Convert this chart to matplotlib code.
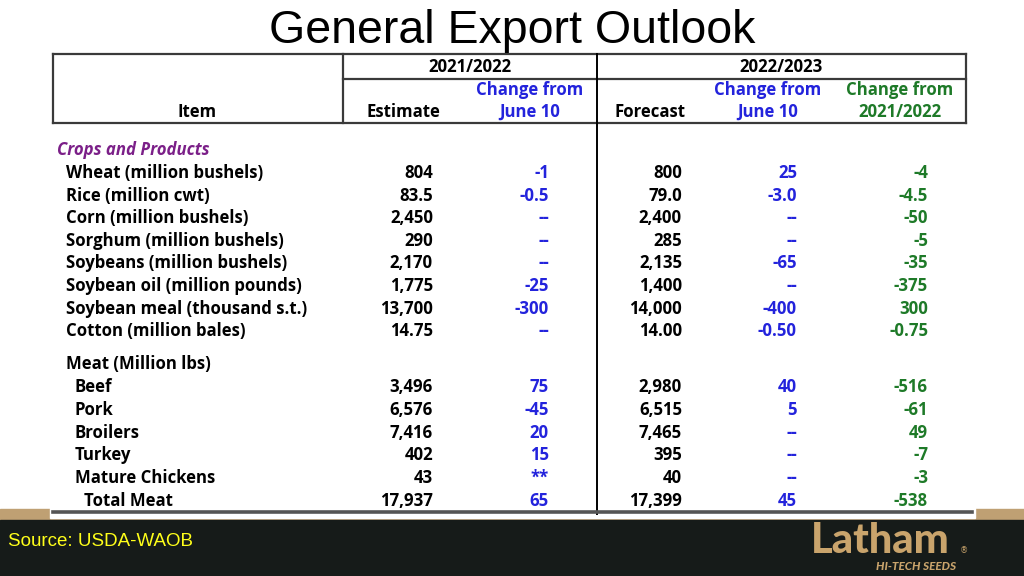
"""General export outlook table (USDA-WAOB) drawn as a slide."""

import matplotlib

matplotlib.use("Agg")
import matplotlib.pyplot as plt
from matplotlib.patches import Rectangle

# --- table data -----------------------------------------------------------
items = [
    "Crops and Products",
    "Wheat (million bushels)",
    "Rice (million cwt)",
    "Corn (million bushels)",
    "Sorghum (million bushels)",
    "Soybeans (million bushels)",
    "Soybean oil (million pounds)",
    "Soybean meal (thousand s.t.)",
    "Cotton (million bales)",
    "Meat (Million lbs)",
    "Beef",
    "Pork",
    "Broilers",
    "Turkey",
    "Mature Chickens",
    "Total Meat",
]
indent = [0, 1, 1, 1, 1, 1, 1, 1, 1, 1, 2, 2, 2, 2, 2, 3]
estimate_2122 = ["", "804", "83.5", "2,450", "290", "2,170", "1,775", "13,700", "14.75",
                 "", "3,496", "6,576", "7,416", "402", "43", "17,937"]
change_2122 = ["", "-1", "-0.5", "--", "--", "--", "-25", "-300", "--",
               "", "75", "-45", "20", "15", "**", "65"]
forecast_2223 = ["", "800", "79.0", "2,400", "285", "2,135", "1,400", "14,000", "14.00",
                 "", "2,980", "6,515", "7,465", "395", "40", "17,399"]
change_2223 = ["", "25", "-3.0", "--", "--", "-65", "--", "-400", "-0.50",
               "", "40", "5", "--", "--", "--", "45"]
change_yoy = ["", "-4", "-4.5", "-50", "-5", "-35", "-375", "300", "-0.75",
              "", "-516", "-61", "49", "-7", "-3", "-538"]

BLUE = "#2323DC"
GREEN = "#1E7A28"
PURPLE = "#7B1F88"
LINE = "#3a3a3a"
GOLD = "#C9A46C"
FONT = "Open Sans"
FS = 12.1

fig = plt.figure(figsize=(10.24, 5.76), dpi=100)
ax = fig.add_axes([0, 0, 1, 1])
ax.set_xlim(0, 1024)
ax.set_ylim(576, 0)
ax.axis("off")

# background bands
ax.add_patch(Rectangle((0, 0), 1024, 576, color="white", zorder=0))
ax.add_patch(Rectangle((0, 509), 1024, 12, color="#BFA073", zorder=1))
ax.add_patch(Rectangle((0, 520), 1024, 56, color="#161b19", zorder=1))
ax.add_patch(Rectangle((50, 500), 925, 18, color="white", zorder=2))

ax.text(512, 31, "General Export Outlook", ha="center", va="center",
        fontsize=33.5, family="Liberation Sans", color="black", zorder=5)

# header grid
lw = 1.6
ax.plot([53, 966], [54, 54], color=LINE, lw=lw, zorder=4)
ax.plot([53, 966], [123, 123], color=LINE, lw=lw, zorder=4)
ax.plot([343, 966], [79, 79], color=LINE, lw=lw, zorder=4)
for x in (53, 343, 966):
    ax.plot([x, x], [54, 123], color=LINE, lw=lw, zorder=4)
ax.plot([597, 597], [54, 514], color="black", lw=1.4, zorder=4)
ax.plot([53, 972], [512, 512], color="#555555", lw=2.6, zorder=4)

hdr = dict(fontsize=FS, family=FONT, fontweight="bold", ha="center", va="center", zorder=5)
ax.text(470, 67, "2021/2022", color="black", **hdr)
ax.text(781, 67, "2022/2023", color="black", **hdr)
ax.text(197, 112, "Item", color="black", **hdr)
ax.text(403, 112, "Estimate", color="black", **hdr)
ax.text(530, 90, "Change from", color=BLUE, **hdr)
ax.text(530, 112, "June 10", color=BLUE, **hdr)
ax.text(650, 112, "Forecast", color="black", **hdr)
ax.text(768, 90, "Change from", color=BLUE, **hdr)
ax.text(768, 112, "June 10", color=BLUE, **hdr)
ax.text(900, 90, "Change from", color=GREEN, **hdr)
ax.text(900, 112, "2021/2022", color=GREEN, **hdr)

# body rows
row_y = [150, 173, 196, 218, 241, 263, 286, 309, 331,
         364, 387, 410, 433, 455, 478, 501]
item_x = [57, 66, 75, 84]
cols = [
    (estimate_2122, 433, "black"),
    (change_2122, 549, BLUE),
    (forecast_2223, 682, "black"),
    (change_2223, 797, BLUE),
    (change_yoy, 928, GREEN),
]
cell = dict(fontsize=FS, family=FONT, fontweight="bold", va="center", zorder=5)
for i, name in enumerate(items):
    y = row_y[i]
    if i == 0:
        ax.text(item_x[0], y, name, color=PURPLE, style="italic", ha="left", **cell)
    else:
        ax.text(item_x[indent[i]], y, name, color="black", ha="left", **cell)
    for values, x, color in cols:
        ax.text(x, y, values[i], color=color, ha="right", **cell)

# footer
ax.text(8, 542, "Source: USDA-WAOB", color="#FFFF1A", fontsize=13.5,
        family="Liberation Sans", ha="left", va="center", zorder=5)
ax.text(880, 541, "Latham", color=GOLD, fontsize=30, family="Lato",
        fontweight="black", ha="center", va="center", zorder=5)
ax.text(960, 551, "\u00ae", color=GOLD, fontsize=6, ha="left", va="center", zorder=5)
ax.text(916, 566, "HI-TECH SEEDS", color=GOLD, fontsize=8.5, family="Lato",
        fontweight="black", style="italic", ha="center", va="center", zorder=5)

fig.savefig("out.png", dpi=100)
